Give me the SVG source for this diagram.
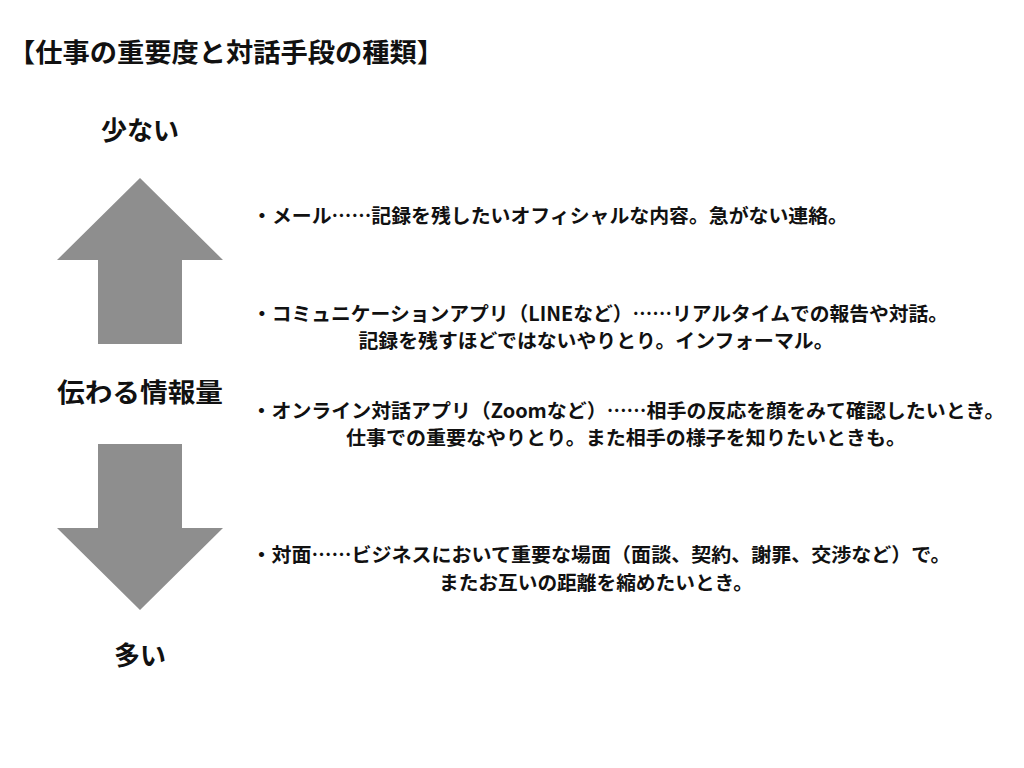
<svg xmlns="http://www.w3.org/2000/svg" width="1024" height="768" viewBox="0 0 1024 768">
<style>
text{font-family:"Noto Sans CJK JP","Noto Sans",sans-serif;font-weight:bold;fill:#111;}
.big{font-size:26px;}
.t{font-size:19.5px;}
.arrow{fill:#8e8e8e;}
</style>
<rect width="1024" height="768" fill="#fff"/>
<g id="title"><text class="big" x="8" y="62" textLength="436" lengthAdjust="spacingAndGlyphs">【仕事の重要度と対話手段の種類】</text></g>
<g id="label-few"><text class="big" x="140" y="140" text-anchor="middle">少ない</text></g>
<g id="arrow-up"><polygon class="arrow" points="140,178 223,260 182,260 182,344 98,344 98,260 57,260"/></g>
<g id="label-info"><text class="big" x="140" y="402" text-anchor="middle" textLength="166" lengthAdjust="spacingAndGlyphs">伝わる情報量</text></g>
<g id="arrow-down"><polygon class="arrow" points="98,444 182,444 182,528 223,528 140,610 57,528 98,528"/></g>
<g id="label-many"><text class="big" x="140" y="665" text-anchor="middle">多い</text></g>
<g id="item-mail"><text class="t" x="550" y="223" text-anchor="middle" textLength="596" lengthAdjust="spacingAndGlyphs">・メール……記録を残したいオフィシャルな内容。急がない連絡。</text></g>
<g id="item-line">
<text class="t" x="600" y="321" text-anchor="middle" textLength="696" lengthAdjust="spacingAndGlyphs">・コミュニケーションアプリ（LINEなど）……リアルタイムでの報告や対話。</text>
<text class="t" x="596" y="348" text-anchor="middle" textLength="475" lengthAdjust="spacingAndGlyphs">記録を残すほどではないやりとり。インフォーマル。</text>
</g>
<g id="item-zoom">
<text class="t" x="628" y="418" text-anchor="middle" textLength="753" lengthAdjust="spacingAndGlyphs">・オンライン対話アプリ（Zoomなど）……相手の反応を顔をみて確認したいとき。</text>
<text class="t" x="626" y="445" text-anchor="middle" textLength="560" lengthAdjust="spacingAndGlyphs">仕事での重要なやりとり。また相手の様子を知りたいときも。</text>
</g>
<g id="item-face">
<text class="t" x="601" y="562" text-anchor="middle" textLength="699" lengthAdjust="spacingAndGlyphs">・対面……ビジネスにおいて重要な場面（面談、契約、謝罪、交渉など）で。</text>
<text class="t" x="596" y="590" text-anchor="middle" textLength="314" lengthAdjust="spacingAndGlyphs">またお互いの距離を縮めたいとき。</text>
</g>
<g id="connectors"></g>
</svg>
